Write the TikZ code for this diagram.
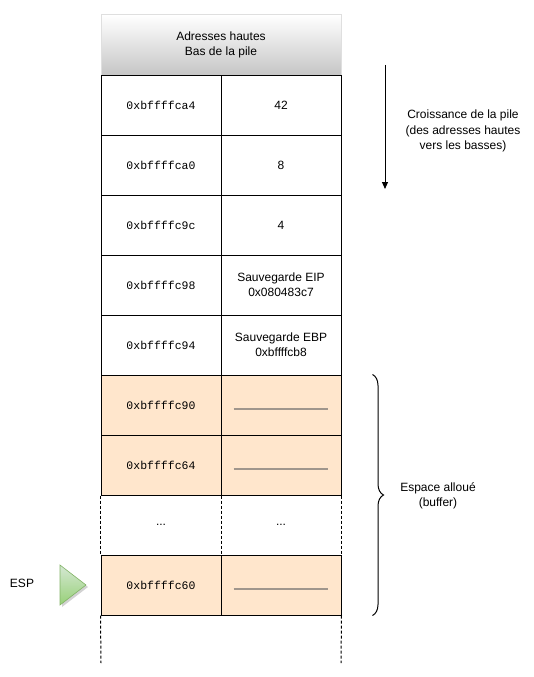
\documentclass[tikz,border=0pt]{standalone}
\usepackage{fontspec}
\setmainfont{Liberation Sans}
\newfontfamily\adrfont{Liberation Mono}
\usetikzlibrary{arrows.meta,decorations.pathreplacing}

\definecolor{bufcol}{HTML}{FFE6CC}
\definecolor{blankcol}{HTML}{A0968C}
\definecolor{esplight}{HTML}{D5E8D4}
\definecolor{espdark}{HTML}{97D077}
\definecolor{espline}{HTML}{82B366}

\tikzset{
  cell/.style={draw,line width=1pt,minimum width=120pt,minimum height=60pt,inner sep=0pt,align=center,font=\fontsize{12}{15}\selectfont},
  adr/.style={cell,font=\adrfont\fontsize{11.5}{14}\selectfont},
  buf/.style={fill=bufcol},
  blank/.style={blankcol,line width=1.6pt},
  open/.style={line width=1pt,dash pattern=on 3pt off 2pt}
}

\begin{document}
\begin{tikzpicture}[x=1pt,y=-1pt]
\useasboundingbox (0,0) rectangle (533,677);

% en-tete de la pile
\node[cell,draw=gray!25,minimum width=240pt,top color=white,bottom color=gray!45] (head) at (221,45) {Adresses hautes\\Bas de la pile};

% cases remplies
\foreach \i/\y/\adr/\val in {1/105/0xbffffca4/42, 2/165/0xbffffca0/8, 3/225/0xbffffc9c/4,
    4/285/0xbffffc98/{Sauvegarde EIP\\0x080483c7}, 5/345/0xbffffc94/{Sauvegarde EBP\\0xbffffcb8}}
  {\node[adr] (a\i) at (161,\y) {\adr};
   \node[cell] (v\i) at (281,\y) {\val};}

% buffer
\node[adr,buf] (a6) at (161,405) {0xbffffc90};
\node[cell,buf] (v6) at (281,405) {};
\node[adr,buf] (a7) at (161,465) {0xbffffc64};
\node[cell,buf] (v7) at (281,465) {};
\node[cell,draw=none] (a8) at (161,525) {...};
\node[cell,draw=none] (v8) at (281,525) {...};
\node[adr,buf] (a9) at (161,585) {0xbffffc60};
\node[cell,buf] (v9) at (281,585) {};

\foreach \i in {6,7,9}
  \draw[blank] ([shift={(13,4)}]v\i.west) -- ([shift={(-14,4)}]v\i.east);

% bords ouverts
\coordinate (endl) at (101,663);
\coordinate (endr) at (341,663);
\draw[open] (a7.south west) -- (a9.north west);
\draw[open] (a7.south east) -- (a9.north east);
\draw[open] (v7.south east) -- (v9.north east);
\draw[open] (a9.south west) -- (endl);
\draw[open] (v9.south east) -- (endr);

% ESP
\node[font=\fontsize{12}{15}\selectfont] (esp) at (22,583) {ESP};
\fill[gray!35] (62,567) -- (88,587) -- (62,607) -- cycle;
\shade[top color=esplight,bottom color=espdark,draw=espline,line width=0.6pt] (60,565) -- (86,585) -- (60,605) -- cycle;

% croissance
\coordinate (gtop) at (385,65);
\coordinate (gbot) at (385,189);
\draw[line width=1pt,-{Triangle[length=7pt,width=6pt]}] (gtop) -- (gbot);
\node[align=center,font=\fontsize{12}{15.5}\selectfont] (grow) at (463,131) {Croissance de la pile\\(des adresses hautes\\vers les basses)};

% espace alloue
\draw[line width=1pt,decorate,decoration={brace,amplitude=11pt}] ([xshift=31]v6.north east) -- ([xshift=31]v9.south east);
\node[align=center,font=\fontsize{12}{15.5}\selectfont] (alloc) at (438,496) {Espace allou\'e\\(buffer)};
\end{tikzpicture}
\end{document}
